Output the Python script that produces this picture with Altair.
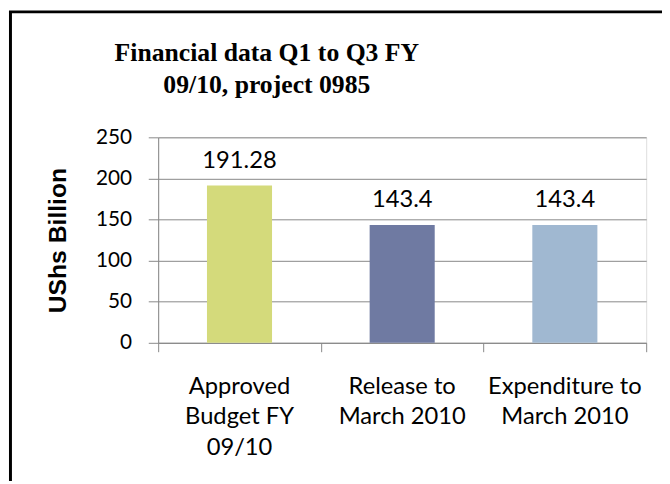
import altair as alt
import pandas as pd

categories = ["Approved\nBudget FY\n09/10", "Release to\nMarch 2010", "Expenditure to\nMarch 2010"]
values = [191.28, 143.4, 143.4]
colors = ["#D4DA7B", "#6F7AA2", "#A0B8D1"]
y_ticks = [0, 50, 100, 150, 200, 250]
title_lines = ["Financial data Q1 to Q3 FY", "09/10, project 0985"]

df = pd.DataFrame({
    "category": categories,
    "value": values,
    "idx": list(range(len(categories))),
})

GRID = "#878787"
W, H = 494, 208

base = alt.Chart(df)

bars = base.mark_bar().encode(
    x=alt.X("category:N", sort=categories, title=None,
            scale=alt.Scale(paddingInner=0.6, paddingOuter=0.3),
            axis=alt.Axis(orient="bottom", labelExpr="split(datum.label, '\\n')",
                          labelFont="Lato", labelFontSize=24, labelColor="black",
                          labelAngle=0, labelBaseline="alphabetic", labelLineHeight=31,
                          labelPadding=51, ticks=False, tickSize=0, labelLimit=300,
                          domain=True, domainColor=GRID, domainWidth=1, grid=False)),
    y=alt.Y("value:Q", title="UShs Billion",
            scale=alt.Scale(domain=[0, 250], nice=False),
            axis=alt.Axis(values=y_ticks, labelFont="Lato", labelFontSize=21,
                          labelColor="black", labelPadding=17, tickSize=10,
                          tickColor=GRID, domain=True, domainColor=GRID,
                          gridColor=GRID, gridWidth=1, grid=True,
                          titleFont="Liberation Sans", titleFontSize=25,
                          titleFontWeight="bold", titleColor="black",
                          titleAngle=270, titleX=-102, titleY=104,
                          titleAlign="center", titleBaseline="middle")),
    color=alt.Color("category:N", sort=categories,
                    scale=alt.Scale(domain=categories, range=colors), legend=None),
)

labels = base.transform_calculate(label="toString(datum.value)").mark_text(
    font="Lato", fontSize=24, baseline="alphabetic", dy=-18, color="black"
).encode(
    x=alt.X("category:N", sort=categories),
    y=alt.Y("value:Q"),
    text="label:N",
)

band_ticks = base.mark_point(opacity=0).encode(
    x=alt.X("idx:Q", title=None, scale=alt.Scale(domain=[0, 3], nice=False, zero=True),
            axis=alt.Axis(orient="bottom", values=[0, 1, 2, 3], labels=False,
                          domain=False, grid=False, ticks=True, tickSize=9,
                          tickColor=GRID)),
)

frame_data = alt.Data(values=[{"f": 1}])
frame_left = alt.Chart(frame_data).mark_rule(color="black", strokeWidth=3).encode(
    x=alt.value(-149.5), y=alt.value(-128), y2=alt.value(H + 140))
frame_top = alt.Chart(frame_data).mark_rule(color="black", strokeWidth=3).encode(
    x=alt.value(-151), x2=alt.value(W + 16), y=alt.value(-127))

main = alt.layer(bars, labels).resolve_scale(x="shared")

chart = alt.layer(main, band_ticks, frame_left, frame_top).resolve_scale(
    x="independent"
).properties(
    width=W, height=H,
    autosize=alt.AutoSizeParams(type="none"),
    padding={"left": 152, "top": 128, "right": 16, "bottom": 140},
    title=alt.TitleParams(text=title_lines, font="Liberation Serif", fontSize=26,
                          fontWeight="bold", color="black", lineHeight=33,
                          anchor="middle", dx=-137, offset=-90),
).configure_view(stroke=None).configure(background="white")

chart.save("out.html", embed_options={"renderer": "svg", "actions": False})
